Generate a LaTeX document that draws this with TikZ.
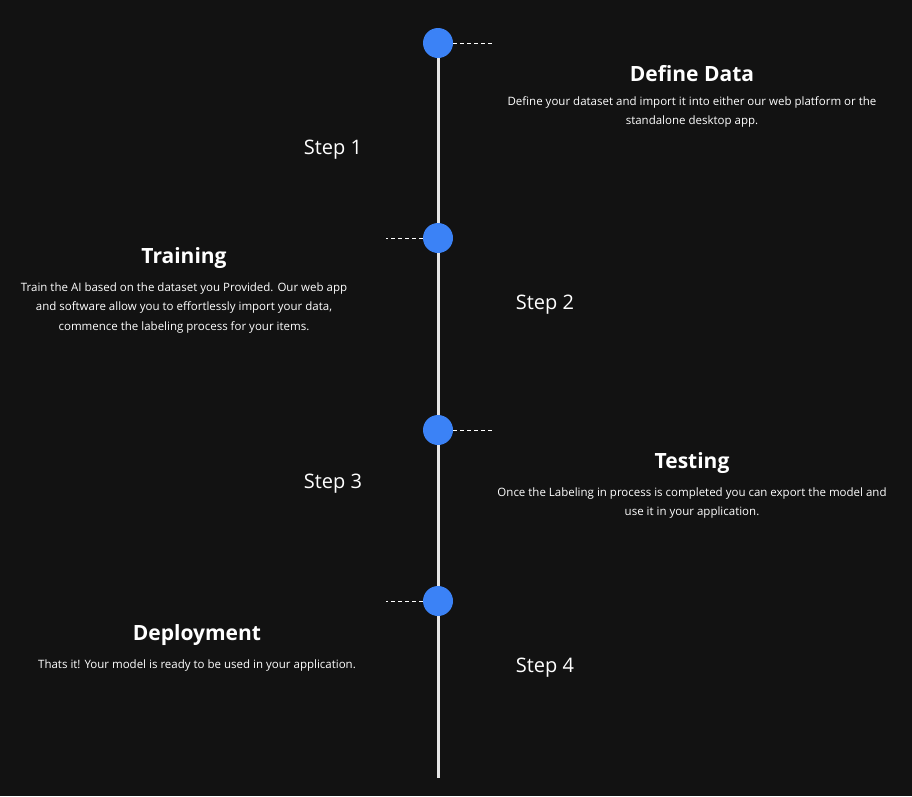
\documentclass[tikz,border=0pt]{standalone}
\usepackage{fontspec}
\setmainfont{Open Sans}
\usetikzlibrary{positioning}
\definecolor{bgdark}{HTML}{121212}
\definecolor{dotblue}{HTML}{3B82F6}
\definecolor{linegray}{HTML}{E5E5E5}
\tikzset{
  dot/.style={circle,fill=dotblue,minimum size=30pt,inner sep=0pt},
  stem/.style={draw=linegray,line width=3pt},
  tick/.style={draw=white,line width=0.8pt,dash pattern=on 4pt off 3pt},
  title/.style={text=white,font=\bfseries\fontsize{21}{25}\selectfont},
  desc/.style={text=white,align=center,font=\fontsize{11.5}{19.5}\selectfont},
  steplabel/.style={text=white,font=\fontsize{20}{24}\selectfont}
}
\begin{document}
\begin{tikzpicture}[x=1pt,y=-1pt]
\fill[bgdark] (0,0) rectangle (912,796);
\node[dot](d1) at (438,43){};
\node[dot](d2) at (438,238){};
\node[dot](d3) at (438,430){};
\node[dot](d4) at (438,601){};
\coordinate (bot) at (438,778);
\draw[stem] (d1) -- (d2);
\draw[stem] (d2) -- (d3);
\draw[stem] (d3) -- (d4);
\draw[stem] (d4) -- (bot);
\coordinate (t1) at (492,43);
\coordinate (t2) at (386,238);
\coordinate (t3) at (492,430);
\coordinate (t4) at (386,601);
\draw[tick] (d1) -- (t1);
\draw[tick] (d2) -- (t2);
\draw[tick] (d3) -- (t3);
\draw[tick] (d4) -- (t4);
\node[title](h1) at (692,74){Define Data};
\node[desc,below=7pt of h1](p1){Define your dataset and import it into either our web platform or the\\standalone desktop app.};
\node[steplabel](s1) at (333,150){Step 1};
\node[title](h2) at (184,258){Training};
\node[desc,below=7pt of h2](p2){Train the AI based on the dataset you Provided. Our web app\\and software allow you to effortlessly import your data,\\commence the labeling process for your items.};
\node[steplabel](s2) at (545,305){Step 2};
\node[title](h3) at (692,463){Testing};
\node[desc,below=7pt of h3](p3){Once the Labeling in process is completed you can export the model and\\use it in your application.};
\node[steplabel](s3) at (333,484){Step 3};
\node[title](h4) at (197,635){Deployment};
\node[desc,below=7pt of h4](p4){Thats it! Your model is ready to be used in your application.};
\node[steplabel](s4) at (545,668){Step 4};
\end{tikzpicture}
\end{document}
